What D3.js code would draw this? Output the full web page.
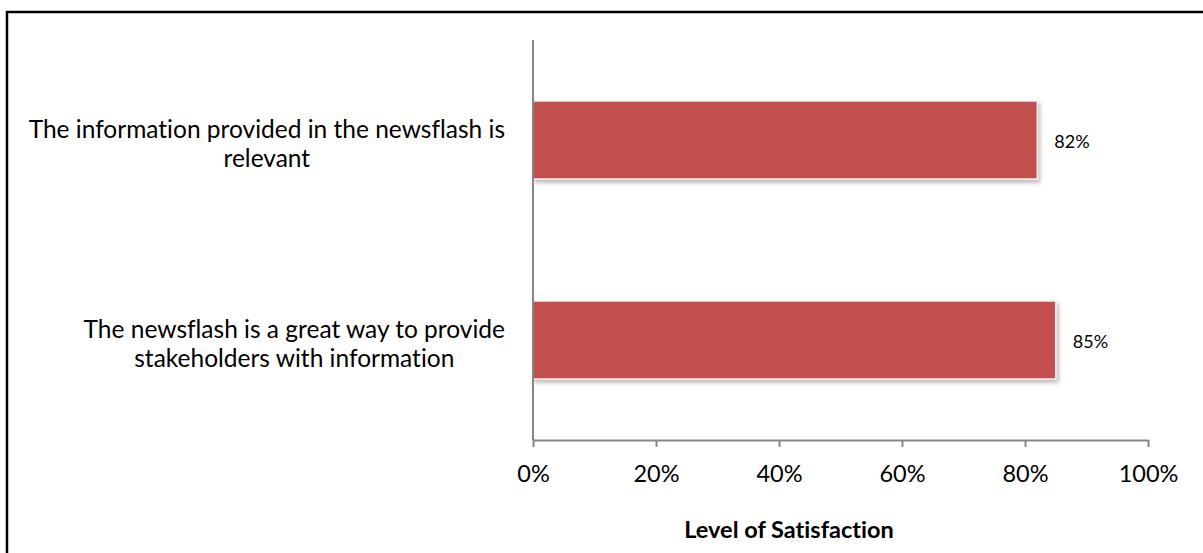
<!DOCTYPE html>
<html>
<head>
<meta charset="utf-8">
<script src="https://cdn.jsdelivr.net/npm/d3@7"></script>
<style>
  html, body { margin: 0; padding: 0; background: #fff; }
  svg { display: block; }
  text { font-family: Lato, "Open Sans", sans-serif; fill: #000;
         font-variant-ligatures: none; font-feature-settings: "liga" 0; }
</style>
</head>
<body>
<svg id="chart" width="1203" height="553"></svg>
<script>
// Survey statements (top to bottom) and their satisfaction shares
const categories = [
  ["The information provided in the newsflash is", "relevant"],
  ["The newsflash is a great way to provide", "stakeholders with information"]
];
const values = [0.82, 0.85];
const tickValues = [0, 0.2, 0.4, 0.6, 0.8, 1.0];
const axisTitle = "Level of Satisfaction";

const svg = d3.select("#chart");
const W = 1203, H = 553;

// Outer frame (open on the right and bottom edges of the page)
svg.append("rect")
  .attr("x", 7).attr("y", 12)
  .attr("width", W + 20).attr("height", H + 20)
  .attr("fill", "#fff")
  .attr("stroke", "#000").attr("stroke-width", 2.5);

const plot = { left: 533, right: 1148, top: 40, bottom: 440 };

const x = d3.scaleLinear().domain([0, 1]).range([plot.left, plot.right]);
const y = d3.scaleBand()
  .domain(d3.range(categories.length))
  .range([plot.top, plot.bottom])
  .paddingInner(0.61)
  .paddingOuter(0.305);

// Soft drop shadow under the bars
const defs = svg.append("defs");
const f = defs.append("filter").attr("id", "shadow")
  .attr("x", "-5%").attr("y", "-10%").attr("width", "115%").attr("height", "140%");
f.append("feDropShadow")
  .attr("dx", 2).attr("dy", 3).attr("stdDeviation", 2)
  .attr("flood-color", "#000").attr("flood-opacity", 0.28);

// Bars
svg.append("g").selectAll("rect")
  .data(values)
  .join("rect")
  .attr("x", x(0))
  .attr("y", (d, i) => y(i))
  .attr("width", d => x(d) - x(0))
  .attr("height", y.bandwidth())
  .attr("fill", "#C0504D")
  .attr("stroke", "#f4eceb")
  .attr("stroke-width", 1.5)
  .attr("filter", "url(#shadow)");

// Value labels
svg.append("g").selectAll("text")
  .data(values)
  .join("text")
  .attr("x", d => x(d) + 17)
  .attr("y", (d, i) => y(i) + y.bandwidth() / 2 + 2)
  .attr("dy", "0.35em")
  .attr("font-size", 18)
  .text(d => Math.round(d * 100) + "%");

// X axis
const xAxis = d3.axisBottom(x)
  .tickValues(tickValues)
  .tickFormat(d3.format(".0%"))
  .tickSize(7)
  .tickSizeOuter(0);

const gx = svg.append("g")
  .attr("transform", `translate(0,${plot.bottom})`)
  .call(xAxis);
gx.select(".domain").attr("stroke", "#868686").attr("stroke-width", 2);
gx.selectAll(".tick line").attr("stroke", "#868686").attr("stroke-width", 2);
gx.selectAll(".tick text")
  .attr("y", 25)
  .attr("font-size", 23.5)
  .attr("font-family", "Lato, sans-serif")
  .attr("fill", "#000");

// Category axis line
svg.append("line")
  .attr("x1", plot.left).attr("x2", plot.left)
  .attr("y1", plot.top).attr("y2", plot.bottom)
  .attr("stroke", "#868686").attr("stroke-width", 2);

// Category labels: wrapped lines centred within a block whose right edge
// sits a fixed gap left of the category axis
const labelRight = plot.left - 28;
const cat = svg.append("g").selectAll("text")
  .data(categories)
  .join("text")
  .attr("text-anchor", "middle")
  .attr("font-size", 24.5)
  .attr("y", (d, i) => y(i) + y.bandwidth() / 2 - 2);
cat.selectAll("tspan")
  .data(d => d)
  .join("tspan")
  .attr("dy", (d, j) => j === 0 ? 0 : 29)
  .text(d => d);
cat.each(function () {
  const spans = d3.select(this).selectAll("tspan");
  const widest = d3.max(spans.nodes(), n => n.getComputedTextLength());
  spans.attr("x", labelRight - widest / 2);
});

// Axis title
svg.append("text")
  .attr("x", 789)
  .attr("y", 538)
  .attr("text-anchor", "middle")
  .attr("font-size", 23.5)
  .attr("font-weight", "bold")
  .text(axisTitle);
</script>
</body>
</html>
